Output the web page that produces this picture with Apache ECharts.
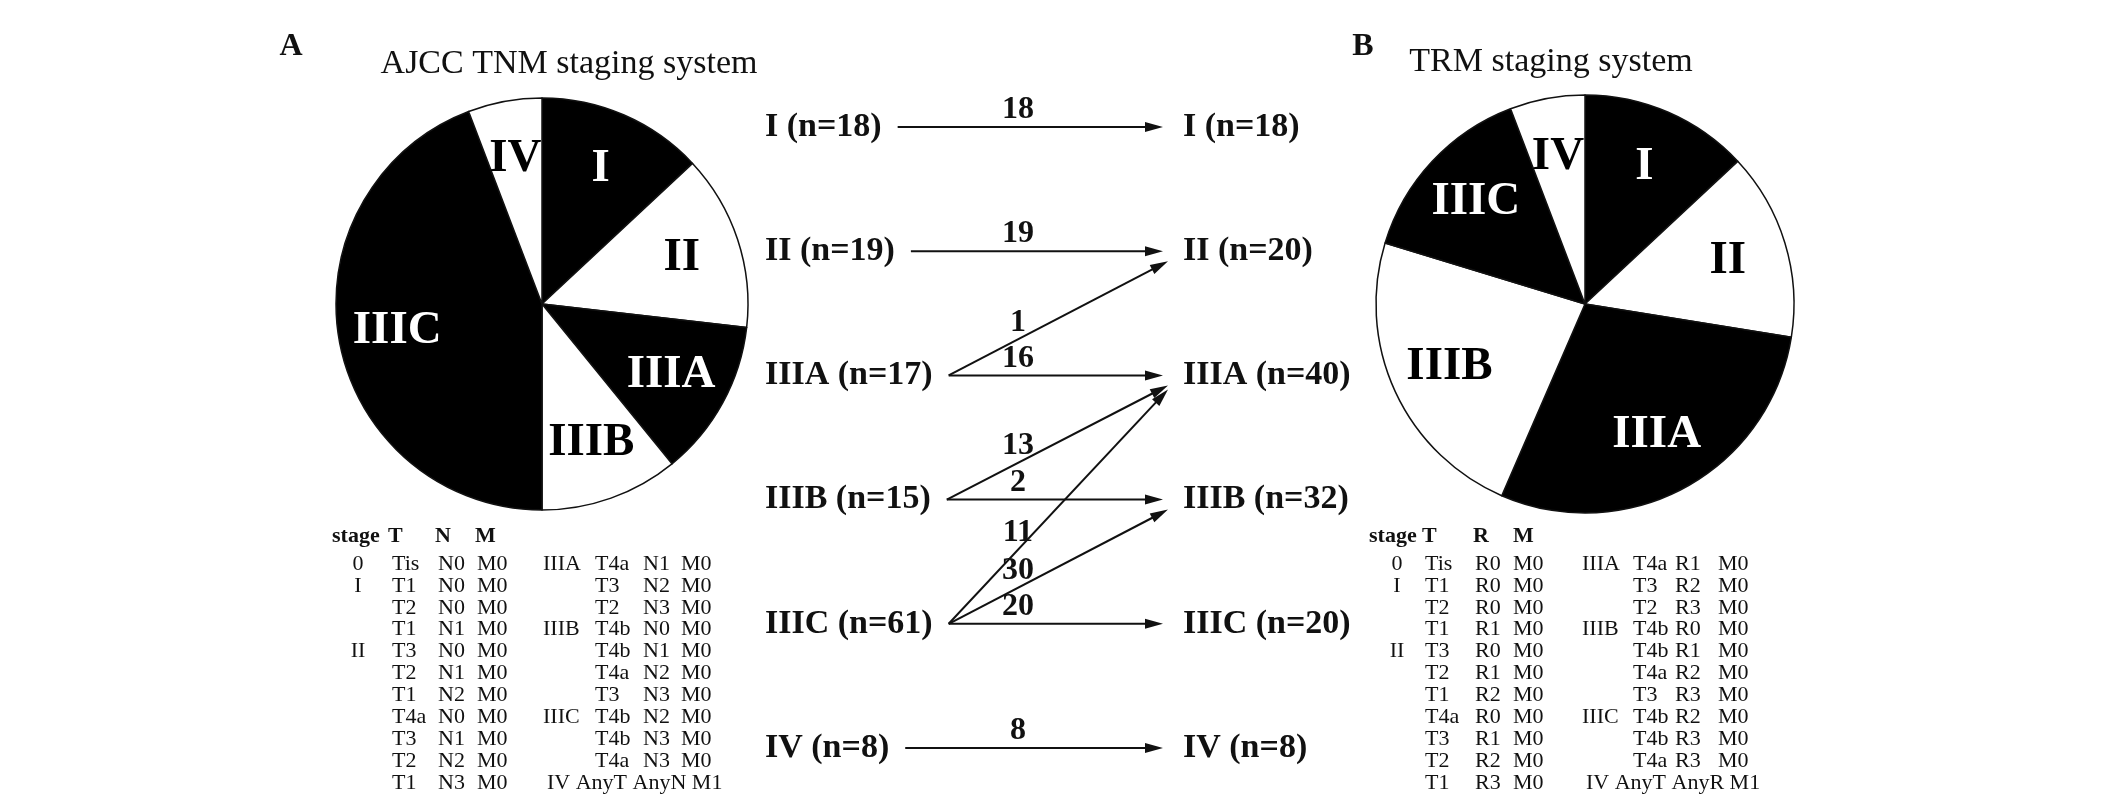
<!DOCTYPE html>
<html><head><meta charset="utf-8">
<script src="https://cdn.jsdelivr.net/npm/echarts@6/dist/echarts.min.js"></script>
<style>html,body{margin:0;padding:0;background:#fff}#c{width:2126px;height:806px}</style>
</head><body><div id="c"></div>
<script>
// ---------------- data ----------------
const stages = ['I', 'II', 'IIIA', 'IIIB', 'IIIC', 'IV'];
const ajccCounts = [18, 19, 17, 15, 61, 8];
const trmCounts = [18, 20, 40, 32, 20, 8];
const flowFrom = ['I', 'II', 'IIIA', 'IIIA', 'IIIB', 'IIIB', 'IIIC', 'IIIC', 'IIIC', 'IV'];
const flowTo = ['I', 'II', 'II', 'IIIA', 'IIIA', 'IIIB', 'IIIA', 'IIIB', 'IIIC', 'IV'];
const flowCount = [18, 19, 1, 16, 13, 2, 11, 30, 20, 8];

const headerA = ['stage', 'T', 'N', 'M'];
const headerB = ['stage', 'T', 'R', 'M'];
const tableA1 = [
  ['0', 'Tis', 'N0', 'M0'], ['I', 'T1', 'N0', 'M0'], ['', 'T2', 'N0', 'M0'], ['', 'T1', 'N1', 'M0'],
  ['II', 'T3', 'N0', 'M0'], ['', 'T2', 'N1', 'M0'], ['', 'T1', 'N2', 'M0'], ['', 'T4a', 'N0', 'M0'],
  ['', 'T3', 'N1', 'M0'], ['', 'T2', 'N2', 'M0'], ['', 'T1', 'N3', 'M0']
];
const tableA2 = [
  ['IIIA', 'T4a', 'N1', 'M0'], ['', 'T3', 'N2', 'M0'], ['', 'T2', 'N3', 'M0'],
  ['IIIB', 'T4b', 'N0', 'M0'], ['', 'T4b', 'N1', 'M0'], ['', 'T4a', 'N2', 'M0'], ['', 'T3', 'N3', 'M0'],
  ['IIIC', 'T4b', 'N2', 'M0'], ['', 'T4b', 'N3', 'M0'], ['', 'T4a', 'N3', 'M0'],
  ['IV', 'AnyT', 'AnyN', 'M1']
];
const tableB1 = [
  ['0', 'Tis', 'R0', 'M0'], ['I', 'T1', 'R0', 'M0'], ['', 'T2', 'R0', 'M0'], ['', 'T1', 'R1', 'M0'],
  ['II', 'T3', 'R0', 'M0'], ['', 'T2', 'R1', 'M0'], ['', 'T1', 'R2', 'M0'], ['', 'T4a', 'R0', 'M0'],
  ['', 'T3', 'R1', 'M0'], ['', 'T2', 'R2', 'M0'], ['', 'T1', 'R3', 'M0']
];
const tableB2 = [
  ['IIIA', 'T4a', 'R1', 'M0'], ['', 'T3', 'R2', 'M0'], ['', 'T2', 'R3', 'M0'],
  ['IIIB', 'T4b', 'R0', 'M0'], ['', 'T4b', 'R1', 'M0'], ['', 'T4a', 'R2', 'M0'], ['', 'T3', 'R3', 'M0'],
  ['IIIC', 'T4b', 'R2', 'M0'], ['', 'T4b', 'R3', 'M0'], ['', 'T4a', 'R3', 'M0'],
  ['IV', 'AnyT', 'AnyR', 'M1']
];

// ---------------- style ----------------
const SERIF = '"Liberation Serif", "DejaVu Serif", serif';
const INK = '#111';
const sliceColors = ['#000', '#fff', '#000', '#fff', '#000', '#fff'];
const sliceLabelColors = ['#fff', '#000', '#fff', '#000', '#fff', '#000'];
const NODE_FONT = 'bold 34px ' + SERIF;
const COUNT_FONT = 'bold 32px ' + SERIF;

const mctx = document.createElement('canvas').getContext('2d');
function textWidth(t, font) { mctx.font = font; return mctx.measureText(t).width; }
function nodeText(side, i) {
  return stages[i] + ' (n=' + (side === 0 ? ajccCounts[i] : trmCounts[i]) + ')';
}

function pieSeries(center, r, counts) {
  const base = { type: 'pie', center: center, startAngle: 90, clockwise: true, silent: true, animation: false };
  return [
    Object.assign({}, base, {
      radius: [0, r],
      data: stages.map((s, i) => ({ name: s, value: counts[i], itemStyle: { color: sliceColors[i] } })),
      itemStyle: { borderColor: INK, borderWidth: 1.5 },
      label: { show: false }, labelLine: { show: false }
    }),
    Object.assign({}, base, {
      radius: [r * 0.4, r],
      data: stages.map((s, i) => ({ name: s, value: counts[i], label: { color: sliceLabelColors[i] } })),
      itemStyle: { color: 'rgba(0,0,0,0)', borderWidth: 0 },
      label: { show: true, position: 'inside', formatter: '{b}', fontFamily: SERIF, fontWeight: 'bold', fontSize: 47, textBorderWidth: 0 },
      labelLine: { show: false }
    })
  ];
}

// ---------------- text graphics (titles, tables) ----------------
const graphics = [];
function txt(x, y, text, font, align) {
  graphics.push({ type: 'text', silent: true, style: { x: x, y: y, text: text, font: font, fill: INK, align: align || 'left', verticalAlign: 'middle' } });
}
txt(291, 47, 'A', 'bold 32px ' + SERIF, 'center');
txt(569, 64, 'AJCC TNM staging system', '34px ' + SERIF, 'center');
txt(1363, 47, 'B', 'bold 32px ' + SERIF, 'center');
txt(1551, 62, 'TRM staging system', '34px ' + SERIF, 'center');

const TFONT = '22px ' + SERIF;
const THFONT = 'bold 22px ' + SERIF;
function table(header, hx, block1, cols1, block2, cols2) {
  header.forEach((h, k) => txt(hx[k], 536, h, THFONT));
  const y0 = 564, dy = 21.9;
  block1.forEach((row, r) => {
    txt(cols1[0], y0 + r * dy, row[0], TFONT, 'center');
    for (let k = 1; k < 4; k++) txt(cols1[k], y0 + r * dy, row[k], TFONT);
  });
  block2.forEach((row, r) => {
    if (row[0] === 'IV') { txt(cols2[0] + 4, y0 + r * dy, row.join(' '), TFONT); return; }
    txt(cols2[0], y0 + r * dy, row[0], TFONT);
    for (let k = 1; k < 4; k++) txt(cols2[k], y0 + r * dy, row[k], TFONT);
  });
}
table(headerA, [332, 388, 435, 475], tableA1, [358, 392, 438, 477], tableA2, [543, 595, 643, 681]);
table(headerB, [1369, 1422, 1473, 1513], tableB1, [1397, 1425, 1475, 1513], tableB2, [1582, 1633, 1675, 1718]);

// ---------------- chart ----------------
const chart = echarts.init(document.getElementById('c'), null, { renderer: 'canvas' });
const nodeData = [];
stages.forEach((s, i) => { nodeData.push([0, i]); nodeData.push([1, i]); });
const flowData = flowFrom.map((f, i) => [stages.indexOf(f), stages.indexOf(flowTo[i]), flowCount[i]]);

chart.setOption({
  animation: false,
  backgroundColor: '#fff',
  grid: { left: 765, width: 418, top: 127, height: 621 },
  xAxis: { type: 'value', min: 0, max: 1, show: false },
  yAxis: { type: 'category', data: stages, inverse: true, boundaryGap: false, show: false },
  graphic: graphics,
  series: [].concat(
    pieSeries([542, 304], 206, ajccCounts),
    pieSeries([1585, 304], 209, trmCounts),
    [{
      type: 'custom', coordinateSystem: 'cartesian2d', silent: true,
      encode: { x: 0, y: 1 },
      data: nodeData,
      renderItem: function (params, api) {
        const side = api.value(0), i = api.value(1);
        const p = api.coord([side, i]);
        return { type: 'text', style: { x: p[0], y: p[1], text: nodeText(side, i), font: NODE_FONT, fill: INK, align: 'left', verticalAlign: 'middle' } };
      }
    }, {
      type: 'custom', coordinateSystem: 'cartesian2d', silent: true,
      encode: { x: -1, y: 0 },
      data: flowData,
      renderItem: function (params, api) {
        const fi = api.value(0), ti = api.value(1), n = api.value(2);
        const L = api.coord([0, fi]), R = api.coord([1, ti]);
        const d = fi - ti;
        const x0 = L[0] + textWidth(nodeText(0, fi), NODE_FONT) + 16, y0 = L[1];
        const x1 = R[0] - (d > 0 ? 15 : 20), y1 = R[1] + (d > 0 ? 6 + 4 * d : 0);
        const ang = Math.atan2(y1 - y0, x1 - x0);
        const hl = 18, hw = 5;
        const bx = x1 - hl * Math.cos(ang), by = y1 - hl * Math.sin(ang);
        const nx = -Math.sin(ang), ny = Math.cos(ang);
        const lx = L[0] + 0.605 * (R[0] - L[0]);
        const ly = y0 + (lx - x0) / (x1 - x0) * (y1 - y0);
        return { type: 'group', children: [
          { type: 'line', shape: { x1: x0, y1: y0, x2: bx + 2 * Math.cos(ang), y2: by + 2 * Math.sin(ang) }, style: { stroke: INK, lineWidth: 2 } },
          { type: 'polygon', shape: { points: [[x1, y1], [bx + nx * hw, by + ny * hw], [bx - nx * hw, by - ny * hw]] }, style: { fill: INK } },
          { type: 'text', style: { x: lx, y: ly - 17, text: String(n), font: COUNT_FONT, fill: INK, align: 'center', verticalAlign: 'middle' } }
        ] };
      }
    }]
  )
});
</script>
</body></html>
